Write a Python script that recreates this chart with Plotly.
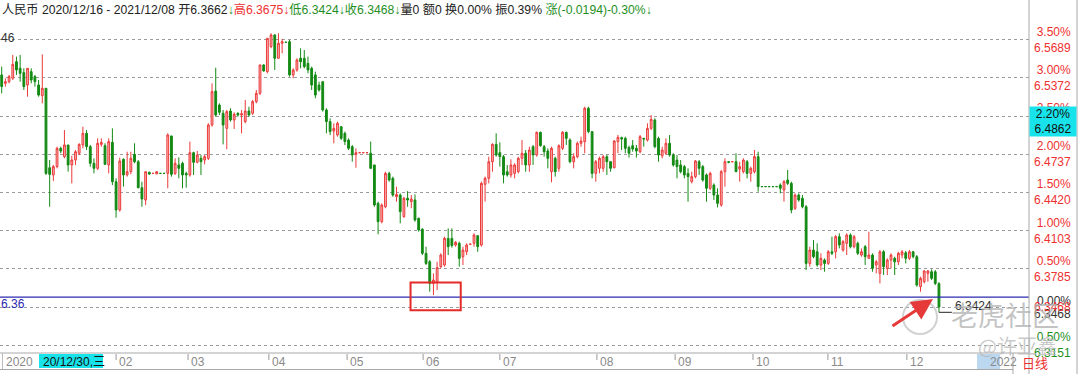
import plotly.graph_objects as go

# ---------------- data ----------------
opens = [
6.5396,6.5326,6.5340,6.5368,6.5506,6.5451,6.5415,6.5312,6.5423,6.5382,
6.5312,6.5224,6.5285,6.4625,6.4565,6.4634,6.4786,6.4717,6.4814,6.4648,
6.4689,6.4745,6.4814,6.4911,6.4800,6.4662,6.4620,6.4819,6.4808,6.4648,
6.4836,6.4509,6.4274,6.4695,6.4565,6.4592,6.4736,6.4675,6.4459,6.4357,
6.4587,6.4578,6.4573,6.4578,6.4578,6.4578,6.4889,6.4578,6.4648,6.4662,
6.4578,6.4565,6.4750,6.4670,6.4703,6.4689,6.4703,6.4980,6.5262,6.5146,
6.5077,6.4952,6.5096,6.5022,6.5077,
6.5063,6.5008,6.5096,6.5077,6.5174,6.5243,6.5479,6.5423,6.5631,6.5728,
6.5534,6.5659,6.5667,6.5672,6.5396,6.5437,6.5534,6.5534,6.5492,6.5451,
6.5396,6.5312,6.5340,6.5105,6.5008,6.4930,6.4897,6.4966,6.4911,6.4855,
6.4800,6.4736,6.4750,6.4750,6.4750,6.4745,6.4648,6.4329,6.4177,6.4301,
6.4578,6.4537,6.4384,6.4398,6.4218,6.4371,6.4343,6.4357,6.4205,6.4115,
6.3914,6.3844,6.3664,6.3678,6.3803,6.3817,6.4038,6.4038,6.3983,6.3997,
6.3886,6.3927,6.3989,6.3997,
6.4060,6.3983,6.4487,6.4537,6.4675,6.4819,6.4750,6.4717,6.4592,6.4565,
6.4578,6.4592,6.4703,6.4745,6.4648,6.4800,6.4731,6.4919,6.4800,6.4764,
6.4592,6.4703,6.4620,6.4786,6.4919,6.4855,6.4675,6.4717,6.4828,6.4842,
6.5119,6.4925,6.4578,6.4620,6.4620,6.4717,6.4675,6.4625,6.4842,6.4875,
6.4869,6.4792,6.4808,6.4786,6.4758,6.4869,6.4855,6.4952,6.5022,6.4869,
6.4725,6.4745,6.4828,6.4731,6.4689,6.4648,6.4634,6.4578,6.4509,6.4551,
6.4675,6.4634,6.4565,6.4454,
6.4481,6.4398,6.4315,6.4592,6.4675,6.4675,6.4675,6.4614,6.4592,6.4675,
6.4578,6.4592,6.4717,6.4468,6.4468,6.4468,6.4468,6.4468,6.4481,6.4440,
6.4523,6.4495,6.4288,6.4398,6.4371,6.4301,6.3830,6.3941,6.3927,6.3817,
6.3858,6.3830,6.3927,6.3927,6.4052,6.3941,6.3997,6.4066,6.3969,6.3997,
6.3900,6.3969,6.3872,6.3900,6.3817,6.3747,6.3927,6.3789,6.3858,6.3872,
6.3844,6.3900,6.3919,6.3872,6.3927,6.3886,6.3637,6.3678,6.3747,6.3761,
6.3761,6.3662]
highs = [
6.5465,6.5368,6.5396,6.5562,6.5548,6.5562,6.5451,6.5451,6.5451,6.5396,
6.5354,6.5567,6.5285,6.4689,6.4648,6.4800,6.4800,6.4938,6.4814,6.4725,
6.4772,6.4828,6.4966,6.4938,6.4814,6.4703,6.4869,6.4869,6.4828,6.4869,
6.4952,6.4537,6.4709,6.4703,6.4758,6.4758,6.4828,6.4689,6.4509,6.4592,
6.4592,6.4578,6.4592,6.4578,6.4578,6.4911,6.4889,6.4703,6.4711,6.4675,
6.4592,6.4842,6.4758,6.4764,6.4731,6.4731,6.4994,6.5326,6.5456,6.5160,
6.5105,6.5105,6.5119,6.5085,6.5085,
6.5105,6.5188,6.5132,6.5188,6.5271,6.5479,6.5484,6.5700,6.5742,6.5733,
6.5742,6.5695,6.5667,6.5686,6.5451,6.5534,6.5617,6.5603,6.5548,6.5465,
6.5423,6.5340,6.5340,6.5119,6.5035,6.4994,6.5008,6.4966,6.4925,6.4869,
6.4814,6.4786,6.4750,6.4750,6.4750,6.4842,6.4648,6.4343,6.4329,6.4592,
6.4592,6.4551,6.4468,6.4412,6.4384,6.4431,6.4398,6.4403,6.4210,6.4121,
6.3969,6.3858,6.3747,6.3844,6.3914,6.4052,6.4121,6.4121,6.4016,6.4011,
6.3969,6.3997,6.3997,6.4080,
6.4066,6.4509,6.4551,6.4717,6.4828,6.4911,6.4836,6.4731,6.4648,6.4695,
6.4662,6.4717,6.4855,6.4772,6.4800,6.4814,6.4925,6.4925,6.4814,6.4786,
6.4800,6.4717,6.4819,6.4930,6.4925,6.4869,6.4745,6.4842,6.4883,6.5132,
6.5132,6.4925,6.4689,6.4717,6.4731,6.4731,6.4681,6.4855,6.4897,6.4883,
6.4883,6.4808,6.4855,6.4814,6.4897,6.4869,6.4994,6.5063,6.5035,6.4883,
6.4800,6.4869,6.4897,6.4745,6.4731,6.4689,6.4648,6.4620,6.4592,6.4689,
6.4689,6.4648,6.4578,6.4592,
6.4495,6.4454,6.4606,6.4703,6.4681,6.4675,6.4745,6.4675,6.4703,6.4689,
6.4634,6.4772,6.4758,6.4468,6.4468,6.4468,6.4468,6.4468,6.4495,6.4523,
6.4606,6.4509,6.4412,6.4412,6.4398,6.4315,6.3969,6.4024,6.3997,6.3914,
6.3872,6.3941,6.4052,6.4066,6.4080,6.4024,6.4080,6.4080,6.4066,6.4011,
6.3955,6.3983,6.4094,6.3914,6.3858,6.3941,6.3941,6.3872,6.3914,6.3886,
6.3927,6.3941,6.3933,6.3941,6.3933,6.3900,6.3720,6.3775,6.3775,6.3781,
6.3775,6.3675]
lows = [
6.5243,6.5299,6.5326,6.5354,6.5396,6.5340,6.5271,6.5215,6.5326,6.5299,
6.5215,6.5160,6.4565,6.4301,6.4515,6.4620,6.4745,6.4703,6.4592,6.4495,
6.4648,6.4731,6.4786,6.4772,6.4634,6.4578,6.4606,6.4800,6.4648,6.4578,
6.4481,6.4210,6.4260,6.4468,6.4551,6.4570,6.4662,6.4454,6.4301,6.4315,
6.4565,6.4578,6.4573,6.4578,6.4578,6.4454,6.4551,6.4565,6.4537,6.4454,
6.4459,6.4551,6.4565,6.4662,6.4565,6.4653,6.4689,6.4966,6.5049,6.5063,
6.4819,6.4778,6.5008,6.4947,6.5049,
6.4911,6.4994,6.5049,6.5063,6.5160,6.5229,6.5423,6.5409,6.5617,6.5437,
6.5534,6.5576,6.5667,6.5382,6.5368,6.5423,6.5451,6.5451,6.5409,6.5271,
6.5202,6.5257,6.5091,6.4911,6.4897,6.4828,6.4883,6.4855,6.4814,6.4772,
6.4675,6.4625,6.4750,6.4750,6.4750,6.4614,6.4301,6.4072,6.4163,6.4288,
6.4509,6.4384,6.4343,6.4163,6.4210,6.4301,6.4288,6.4177,6.4094,6.3900,
6.3817,6.3595,6.3567,6.3609,6.3789,6.3803,6.3900,6.3961,6.3969,6.3803,
6.3817,6.3900,6.3983,6.3969,
6.3927,6.3969,6.4343,6.4495,6.4592,6.4717,6.4634,6.4495,6.4551,6.4543,
6.4537,6.4578,6.4648,6.4592,6.4592,6.4648,6.4717,6.4800,6.4717,6.4620,
6.4504,6.4551,6.4592,6.4772,6.4814,6.4662,6.4620,6.4703,6.4800,6.4745,
6.4911,6.4537,6.4509,6.4578,6.4592,6.4565,6.4592,6.4620,6.4745,6.4772,
6.4745,6.4709,6.4758,6.4709,6.4745,6.4800,6.4842,6.4938,6.4786,6.4675,
6.4703,6.4731,6.4717,6.4634,6.4537,6.4578,6.4537,6.4343,6.4495,6.4537,
6.4565,6.4509,6.4343,6.4440,
6.4357,6.4295,6.4301,6.4468,6.4662,6.4675,6.4592,6.4509,6.4578,6.4537,
6.4509,6.4578,6.4426,6.4468,6.4468,6.4468,6.4468,6.4468,6.4412,6.4343,
6.4481,6.4246,6.4274,6.4343,6.4288,6.3775,6.3803,6.3872,6.3803,6.3775,
6.3761,6.3817,6.3900,6.3872,6.3955,6.3927,6.3900,6.3955,6.3955,6.3900,
6.3886,6.3817,6.3872,6.3761,6.3747,6.3664,6.3734,6.3734,6.3789,6.3734,
6.3817,6.3872,6.3830,6.3858,6.3872,6.3637,6.3595,6.3664,6.3678,6.3692,
6.3650,6.3424]
closes = [
6.5299,6.5340,6.5382,6.5484,6.5437,6.5409,6.5299,6.5451,6.5354,6.5340,
6.5229,6.5285,6.4578,6.4570,6.4634,6.4786,6.4764,6.4814,6.4648,6.4689,
6.4758,6.4819,6.4911,6.4800,6.4662,6.4620,6.4828,6.4836,6.4653,6.4842,
6.4509,6.4274,6.4681,6.4565,6.4592,6.4703,6.4675,6.4459,6.4365,6.4592,
6.4573,6.4578,6.4592,6.4578,6.4578,6.4897,6.4570,6.4662,6.4620,6.4565,
6.4565,6.4750,6.4670,6.4731,6.4675,6.4717,6.4980,6.5257,6.5063,6.5085,
6.4980,6.5091,6.5022,6.5069,6.5063,
6.5074,6.5096,6.5063,6.5174,6.5243,6.5479,6.5429,6.5700,6.5728,6.5534,
6.5659,6.5672,6.5667,6.5396,6.5437,6.5520,6.5506,6.5465,6.5437,6.5312,
6.5229,6.5271,6.5105,6.5008,6.4925,6.4952,6.4994,6.4869,6.4842,6.4786,
6.4731,6.4750,6.4750,6.4750,6.4750,6.4620,6.4315,6.4177,6.4315,6.4578,
6.4523,6.4398,6.4403,6.4260,6.4371,6.4357,6.4365,6.4191,6.4108,6.3914,
6.3830,6.3664,6.3692,6.3795,6.3900,6.4038,6.3969,6.3978,6.4005,6.3872,
6.3941,6.3983,6.3989,6.4066,
6.3969,6.4495,6.4537,6.4675,6.4819,6.4731,6.4717,6.4565,6.4565,6.4648,
6.4648,6.4703,6.4745,6.4648,6.4772,6.4731,6.4919,6.4808,6.4758,6.4703,
6.4786,6.4592,6.4808,6.4919,6.4869,6.4675,6.4717,6.4828,6.4847,6.5119,
6.4925,6.4578,6.4675,6.4703,6.4717,6.4675,6.4620,6.4847,6.4878,6.4864,
6.4786,6.4745,6.4781,6.4764,6.4883,6.4864,6.4952,6.5027,6.4800,6.4731,
6.4772,6.4828,6.4731,6.4648,6.4634,6.4592,6.4565,6.4551,6.4551,6.4681,
6.4620,6.4523,6.4454,6.4578,
6.4398,6.4329,6.4592,6.4675,6.4670,6.4675,6.4592,6.4634,6.4689,6.4578,
6.4620,6.4717,6.4468,6.4468,6.4468,6.4468,6.4468,6.4468,6.4454,6.4509,
6.4495,6.4274,6.4398,6.4357,6.4301,6.3830,6.3941,6.3886,6.3817,6.3872,
6.3830,6.3927,6.3914,6.4052,6.3983,6.4011,6.4066,6.3969,6.4052,6.3914,
6.3927,6.3886,6.3900,6.3789,6.3844,6.3927,6.3803,6.3858,6.3900,6.3844,
6.3914,6.3927,6.3872,6.3927,6.3886,6.3650,6.3706,6.3767,6.3767,6.3706,
6.3664,6.3468]

month_pos = [31.0, 50.5, 72.4, 93.6, 114.2, 135.0, 161.3, 182.5, 203.6, 223.9, 245.3]
month_text = ["02", "03", "04", "05", "06", "07", "08", "09", "10", "11", "12"]

pct_levels = [3.5, 3.0, 2.5, 2.0, 1.5, 1.0, 0.5, 0.0, -0.5]
date_range = "2020/12/16 - 2021/12/08"
cursor_pct, cursor_price = "2.20%", "6.4862"
cursor_date = "20/12/30,三"
hline_price, hline_label = 6.355, "6.36"
box_idx = (110.8, 124.4)
box_price = (6.3440, 6.3672)

# ---------------- geometry ----------------
W, H = 1080, 374
PL, PR, PT, PB = 0, 1029, 20, 353
n = len(closes)
idx = list(range(n))
base = closes[-1]
ppp = base * 0.005 / 38.2          # price per pixel
zero_px = 307
y_top = base + (zero_px - PT) * ppp
y_bot = base - (PB - zero_px) * ppp
c0, step = 1.7, 3.69
x_lo = (PL - c0) / step
x_hi = (PR - c0) / step

def fx(px):
    return px / W

def fy(py):
    return 1 - py / H

RED = "#ee3030"
GREEN = "#1f8f1f"
GREY = "#8a8a8a"
FONT = "Liberation Sans, Arial, Noto Sans CJK SC, sans-serif"

grid_prices = [base * (1 + p / 100) for p in pct_levels]

fig = go.Figure()
fig.add_trace(go.Candlestick(
    x=idx, open=opens, high=highs, low=lows, close=closes,
    increasing=dict(line=dict(color="#ec3a3a", width=1), fillcolor="#f7b4b4"),
    decreasing=dict(line=dict(color="#138a13", width=1), fillcolor="#138a13"),
    whiskerwidth=0, hoverinfo="skip",
))

shapes = []
shapes.append(dict(type="line", xref="paper", yref="y", x0=fx(PL), x1=fx(PR),
                   y0=hline_price, y1=hline_price, line=dict(color="#2b2bb0", width=1.2)))
shapes.append(dict(type="rect", xref="x", yref="y", x0=box_idx[0], x1=box_idx[1],
                   y0=box_price[0], y1=box_price[1], line=dict(color="#e52a2a", width=2, dash="solid")))
shapes.append(dict(type="line", xref="x", yref="y", x0=n - 1, x1=n - 1 + 3.5,
                   y0=lows[-1], y1=lows[-1], line=dict(color="#222222", width=1)))
shapes.append(dict(type="line", xref="paper", yref="paper", x0=fx(0), x1=fx(PR),
                   y0=fy(PB), y1=fy(PB), line=dict(color="#a8a8a8", width=1)))
shapes.append(dict(type="line", xref="paper", yref="paper", x0=fx(0), x1=fx(1013),
                   y0=fy(369.5), y1=fy(369.5), line=dict(color="#a8a8a8", width=1)))
shapes.append(dict(type="line", xref="paper", yref="paper", x0=fx(PR), x1=fx(PR),
                   y0=fy(0), y1=fy(H), line=dict(color="#a8a8a8", width=1)))
shapes.append(dict(type="line", xref="paper", yref="paper", x0=fx(1077), x1=fx(1077),
                   y0=fy(0), y1=fy(H), line=dict(color="#a8a8a8", width=1)))
shapes.append(dict(type="line", xref="paper", yref="paper", x0=fx(2.5), x1=fx(2.5),
                   y0=fy(353), y1=fy(369), line=dict(color="#bbbbbb", width=1)))
shapes.append(dict(type="rect", xref="paper", yref="paper", x0=fx(39), x1=fx(103),
                   y0=fy(368), y1=fy(354), fillcolor="#19e3ea", line=dict(width=0)))
shapes.append(dict(type="rect", xref="paper", yref="paper", x0=fx(977), x1=fx(1000),
                   y0=fy(369), y1=fy(354), fillcolor="#bcd7f0", line=dict(width=0)))
shapes.append(dict(type="line", xref="paper", yref="paper", x0=fx(1013), x1=fx(1013),
                   y0=fy(353), y1=fy(374), line=dict(color="#a8a8a8", width=1)))
for m in month_pos:
    shapes.append(dict(type="line", xref="x", yref="paper", x0=m, x1=m,
                       y0=fy(354), y1=fy(360), line=dict(color="#9a9a9a", width=1)))
shapes.append(dict(type="circle", xref="paper", yref="paper", x0=fx(903), x1=fx(937),
                   y0=fy(334), y1=fy(300), line=dict(color="rgba(190,190,190,0.7)", width=2)))

ann = []
hdr = (f'人民币 {date_range} 开{opens[-1]:.4f}<span style="color:{GREEN}">↓</span>'
       f'<span style="color:{RED}">高{highs[-1]:.4f}↓</span>'
       f'<span style="color:{GREEN}">低{lows[-1]:.4f}↓收{closes[-1]:.4f}↓</span>'
       f'量0 额0 换0.00% 振0.39% '
       f'<span style="color:{GREEN}">涨(-0.0194)-0.30%↓</span>')
ann.append(dict(xref="paper", yref="paper", x=fx(0), y=fy(10), text=hdr, showarrow=False,
                xanchor="left", yanchor="middle", font=dict(family=FONT, size=12.2, color="#222222")))

for p, gp in zip(pct_levels, grid_prices):
    col = RED if p > 0 else (GREEN if p < 0 else "#333333")
    pct_txt = f"{abs(p):.2f}%"
    if p == 0:
        ann.append(dict(xref="paper", yref="y", x=fx(1073), y=gp, yshift=6,
                        text=pct_txt, showarrow=False, xanchor="right", yanchor="middle",
                        font=dict(family=FONT, size=12, color="#333333")))
        ann.append(dict(xref="paper", yref="y", x=fx(1073), y=gp, yshift=-7,
                        text=f"{gp:.4f}", showarrow=False, xanchor="right", yanchor="middle",
                        font=dict(family=FONT, size=12, color="#333333")))
        ann.append(dict(xref="paper", yref="y", x=fx(1073), y=gp, yshift=0,
                        text=f"{closes[-1]:.4f}", showarrow=False, xanchor="right", yanchor="middle",
                        font=dict(family=FONT, size=12, color=RED)))
    else:
        ann.append(dict(xref="paper", yref="y", x=fx(1073), y=gp,
                        text=f"{pct_txt}<br>{gp:.4f}", showarrow=False, xanchor="right",
                        yanchor="middle", align="right",
                        font=dict(family=FONT, size=12, color=col)))

ann.append(dict(xref="paper", yref="paper", x=fx(1053), y=fy(121.5),
                text=f"{cursor_pct}<br>{cursor_price}", showarrow=False,
                xanchor="center", yanchor="middle", align="center",
                bgcolor="#19e3ea", width=44, height=27, borderpad=1,
                font=dict(family=FONT, size=12, color="#111111")))

ann.append(dict(xref="paper", yref="paper", x=fx(-1), y=fy(38), text="46", showarrow=False,
                xanchor="left", yanchor="middle", font=dict(family=FONT, size=12, color="#333333")))
ann.append(dict(xref="paper", yref="y", x=fx(-1), y=hline_price, yshift=-7, text=hline_label,
                showarrow=False, xanchor="left", yanchor="middle",
                font=dict(family=FONT, size=12, color="#2b2bb0")))

for m, t in zip(month_pos, month_text):
    ann.append(dict(xref="x", yref="paper", x=m, y=fy(362), xshift=1, text=t, showarrow=False,
                    xanchor="left", yanchor="middle", font=dict(family=FONT, size=12, color=GREY)))
ann.append(dict(xref="paper", yref="paper", x=fx(4), y=fy(362), text="2020", showarrow=False,
                xanchor="left", yanchor="middle", font=dict(family=FONT, size=12, color=GREY)))
ann.append(dict(xref="paper", yref="paper", x=fx(41), y=fy(361.5), text=cursor_date, showarrow=False,
                xanchor="left", yanchor="middle", font=dict(family=FONT, size=12, color="#111111")))
ann.append(dict(xref="paper", yref="paper", x=fx(988), y=fy(362), text="2022", showarrow=False,
                xanchor="left", yanchor="middle", font=dict(family=FONT, size=12, color=GREY)))
ann.append(dict(xref="paper", yref="paper", x=fx(1020), y=fy(362), text="日线", showarrow=False,
                xanchor="left", yanchor="middle",
                font=dict(family="Noto Sans CJK SC", size=13, color=RED)))
ann.append(dict(xref="paper", yref="paper", x=fx(3), y=fy(371), text="人民币", showarrow=False,
                xanchor="left", yanchor="top", font=dict(family="Noto Sans CJK SC", size=12, color="#333333")))

ann.append(dict(xref="paper", yref="y", x=fx(953), y=lows[-1], yshift=6, text=f"{lows[-1]:.4f}",
                showarrow=False, xanchor="left", yanchor="middle",
                font=dict(family=FONT, size=12, color="#333333")))

ann.append(dict(xref="paper", yref="paper", x=fx(1005), y=fy(314), text="老虎社区", showarrow=False,
                xanchor="center", yanchor="middle",
                font=dict(family="Noto Sans CJK SC", size=27, color="rgba(175,175,175,0.75)")))
ann.append(dict(xref="paper", yref="paper", x=fx(1018), y=fy(345), text="@许亚鑫", showarrow=False,
                xanchor="center", yanchor="middle",
                font=dict(family="Noto Sans CJK SC", size=20, color="rgba(185,185,185,0.75)")))

ann.append(dict(xref="paper", yref="paper", x=fx(933), y=fy(299), ax=-42, ay=28, text="",
                showarrow=True, arrowhead=2, arrowsize=1.4, arrowwidth=3, arrowcolor="#e63a3a"))

fig.update_layout(
    width=W, height=H, margin=dict(l=0, r=0, t=0, b=0),
    paper_bgcolor="white", plot_bgcolor="white", showlegend=False,
    xaxis=dict(domain=[fx(PL), fx(PR)], range=[x_lo, x_hi], showgrid=False, zeroline=False,
               showticklabels=False, showline=False, rangeslider=dict(visible=False), fixedrange=True),
    yaxis=dict(domain=[fy(PB), fy(PT)], range=[y_bot, y_top], tickvals=grid_prices,
               showticklabels=False, showgrid=True, gridcolor="#9c9c9c", griddash="dot",
               gridwidth=1, zeroline=False, showline=False, fixedrange=True),
    shapes=shapes, annotations=ann,
)

fig.write_html("out.html", config={"displayModeBar": False},
               post_script="document.body.style.margin='0';document.body.style.overflow='hidden';")
